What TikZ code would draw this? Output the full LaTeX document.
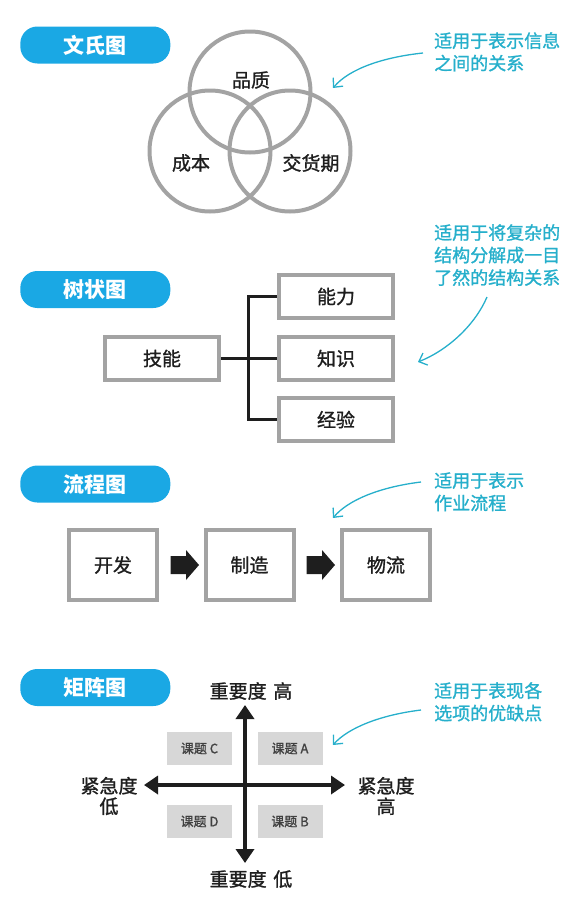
\documentclass[tikz,border=0pt]{standalone}
\usepackage{fontspec}
\setmainfont{Noto Sans CJK SC}
\newfontfamily\medfont[FakeBold=1.2]{Noto Sans CJK SC}
\usetikzlibrary{arrows.meta,calc}
\definecolor{pillblue}{HTML}{1AA8E4}
\definecolor{noteteal}{HTML}{26AFCB}
\definecolor{edgegray}{HTML}{A3A3A3}
\definecolor{cellgray}{HTML}{D7D7D7}
\definecolor{inkdark}{HTML}{1E1E1E}
\tikzset{
 pill/.style={fill=pillblue, rounded corners=17pt, minimum width=150pt, minimum height=37pt, inner sep=0pt, text=white, font=\fontsize{21}{21}\selectfont\bfseries},
 venn/.style={circle, draw=edgegray, line width=4pt, minimum size=121pt, inner sep=0pt},
 lbl/.style={font=\medfont\fontsize{19}{19}\selectfont, text=inkdark},
 treebox/.style={draw=edgegray, line width=4pt, minimum width=114pt, minimum height=43pt, inner sep=0pt, lbl},
 flowbox/.style={draw=edgegray, line width=4pt, minimum width=88pt, minimum height=70pt, inner sep=0pt, lbl},
 cell/.style={fill=cellgray, minimum width=65pt, minimum height=33pt, inner sep=0pt, font=\medfont\fontsize{13}{13}\selectfont, text=inkdark!85},
 note/.style={anchor=north west, align=left, text=noteteal, inner sep=0pt, font=\medfont\fontsize{18}{22.5}\selectfont},
 notearrow/.style={draw=noteteal, line width=1.3pt, -{Straight Barb[length=7pt,width=13pt]}},
 axis/.style={draw=inkdark, line width=4pt, {Triangle[length=14pt,width=18pt]}-{Triangle[length=14pt,width=18pt]}},
 treeline/.style={draw=inkdark, line width=3pt},
 blockarrow/.style={fill=inkdark},
}
\begin{document}
\begin{tikzpicture}[x=1pt,y=-1pt]
\useasboundingbox (0,0) rectangle (587,900);

% ---------- Venn ----------
\node[pill] (p1) at (95.3,45) {文氏图};
\node[venn] (ctop) at (250,92) {};
\node[venn] (cleft) at (210,151) {};
\node[venn] (cright) at (290,151) {};
\node[lbl] (tq) at (251,80) {品质};
\node[lbl] (tc) at (191,163) {成本};
\node[lbl] (td) at (311,163) {交货期};
\node[note] (n1) at (434,32) {适用于表示信息\\之间的关系};
\coordinate (n1s) at (423,53);
\coordinate (n1e) at (333,88);
\draw[notearrow] (n1s) .. controls (385,57) and (350,68) .. (n1e);

% ---------- Tree ----------
\node[pill] (p2) at (95.3,289.5) {树状图};
\node[treebox] (jn) at (162,358.5) {技能};
\node[treebox] (nl) at (336,296.5) {能力};
\node[treebox] (zs) at (336,358.5) {知识};
\node[treebox] (jy) at (336,419.5) {经验};
\coordinate (trunk) at (248,358.5);
\draw[treeline] (jn.east) -- (zs.west);
\draw[treeline] (nl.west) -- (nl.west -| trunk) -- (jy.west -| trunk) -- (jy.west);
\node[note] (n2) at (434,224) {适用于将复杂的\\结构分解成一目\\了然的结构关系};
\coordinate (n2s) at (487,297);
\coordinate (n2e) at (418,362);
\draw[notearrow] (n2s) .. controls (475,325) and (448,350) .. (n2e);

% ---------- Flow ----------
\node[pill] (p3) at (95.3,484) {流程图};
\node[flowbox] (kf) at (113,565) {开发};
\node[flowbox] (zz) at (249.5,565) {制造};
\node[flowbox] (wl) at (386,565) {物流};
\fill[blockarrow] (kf.east) ++(11.5,-9) -- ++(15.5,0) -- ++(0,-6) -- ++(13,15) -- ++(-13,15) -- ++(0,-6) -- ++(-15.5,0) -- cycle;
\fill[blockarrow] (zz.east) ++(11,-9) -- ++(15.5,0) -- ++(0,-6) -- ++(13,15) -- ++(-13,15) -- ++(0,-6) -- ++(-15.5,0) -- cycle;
\node[note] (n3) at (434,472) {适用于表示\\作业流程};
\coordinate (n3s) at (421,482);
\coordinate (n3e) at (333,518);
\draw[notearrow] (n3s) .. controls (380,487) and (348,500) .. (n3e);

% ---------- Matrix ----------
\node[pill] (p4) at (95.3,687.5) {矩阵图};
\coordinate (vt) at (245,705);
\coordinate (vb) at (245,863);
\coordinate (hl) at (144,785);
\coordinate (hr) at (345,785);
\draw[axis] (vb) -- (vt);
\draw[axis] (hl) -- (hr);
\node[cell] (kc) at (199.5,748.5) {课题 C};
\node[cell] (ka) at (290,748.5) {课题 A};
\node[cell] (kd) at (199.5,821.5) {课题 D};
\node[cell] (kb) at (290,821.5) {课题 B};
\node[lbl] (zh) at (251,691) {重要度\hspace{0.35em}高};
\node[lbl] (zl) at (251,879) {重要度\hspace{0.35em}低};
\node[lbl, align=center, font=\medfont\fontsize{19}{20.5}\selectfont] (jl) at (109,796) {紧急度\\低};
\node[lbl, align=center, font=\medfont\fontsize{19}{20.5}\selectfont] (jh) at (386,796) {紧急度\\高};
\node[note] (n4) at (434,682) {适用于表现各\\选项的优缺点};
\coordinate (n4s) at (421,710);
\coordinate (n4e) at (333,745);
\draw[notearrow] (n4s) .. controls (380,715) and (348,728) .. (n4e);
\end{tikzpicture}
\end{document}
